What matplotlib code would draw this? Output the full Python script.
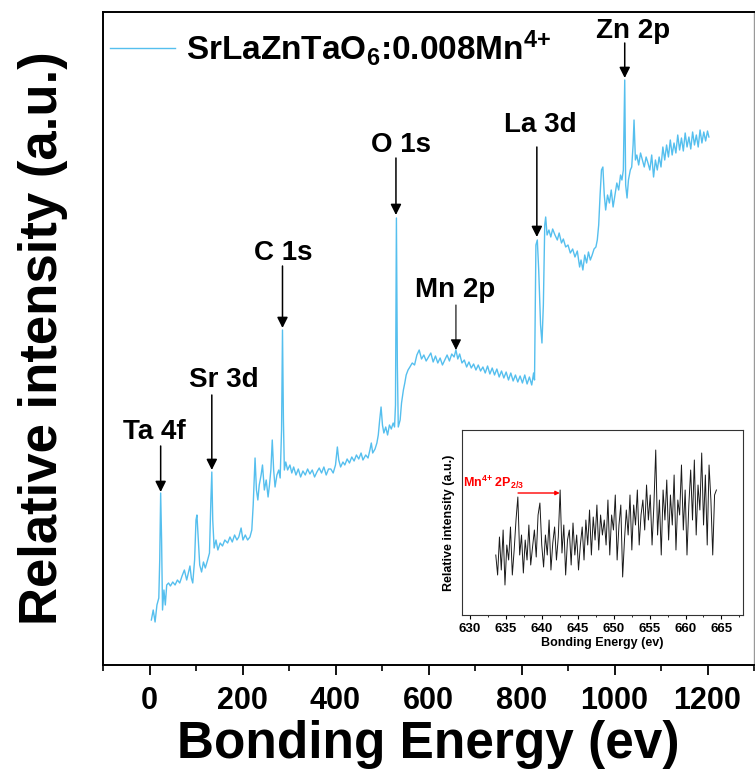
import numpy as np
import matplotlib
matplotlib.use("Agg")
import matplotlib.pyplot as plt

plt.rcParams['font.family'] = ['Liberation Sans', 'DejaVu Sans']
plt.rcParams['font.weight'] = 'bold'
plt.rcParams['mathtext.fontset'] = 'custom'
plt.rcParams['mathtext.rm'] = 'Liberation Sans:bold'
plt.rcParams['mathtext.bf'] = 'Liberation Sans:bold'
plt.rcParams['mathtext.it'] = 'Liberation Sans:bold'

# ── DATA ──────────────────────────────────────────────────────────────────────

# XPS survey spectrum, binding energy (eV) and intensity (a.u.)
survey_energy = [
    4, 8, 12, 16, 20, 22, 24, 26, 28, 31, 34, 37, 41, 45, 50, 55, 60, 65, 70, 75,
    80, 84, 87, 90, 93, 97, 100, 102, 105, 108, 112, 116, 120, 125, 129, 132, 134,
    136, 139, 143, 147, 152, 157, 162, 168, 173, 178, 183, 188, 192, 197, 201, 206,
    211, 216, 220, 223, 227, 230, 233, 236, 240, 243, 247, 251, 255, 258, 261, 264,
    267, 270, 274, 278, 281, 284, 286, 288, 290, 293, 297, 302, 306, 310, 315, 320,
    325, 330, 335, 340, 345, 350, 355, 360, 365, 370, 375, 380, 385, 390, 395, 400,
    404, 407, 411, 416, 420, 425, 430, 435, 440, 445, 450, 455, 459, 465, 470, 474,
    477, 480, 485, 489, 492, 495, 498, 501, 504, 508, 512, 516, 520, 524, 527, 529,
    531, 533, 535, 539, 542, 546, 549, 552, 556, 560, 565, 570, 575, 580, 585, 590,
    595, 600, 605, 610, 615, 620, 625, 630, 635, 640, 645, 650, 655, 659, 663, 667,
    672, 677, 682, 687, 692, 697, 702, 707, 712, 717, 722, 727, 732, 737, 742, 747,
    752, 757, 762, 767, 772, 777, 782, 787, 792, 797, 802, 807, 812, 817, 822, 826,
    828, 831, 834, 837, 841, 844, 847, 850, 852, 855, 859, 863, 867, 872, 877, 881,
    886, 890, 895, 900, 905, 910, 915, 920, 925, 928, 932, 936, 940, 944, 948, 952,
    956, 960, 963, 966, 969, 972, 975, 978, 981, 985, 989, 993, 997, 1001, 1005,
    1009, 1013, 1016, 1019, 1022, 1024, 1027, 1030, 1034, 1037, 1040, 1042, 1045,
    1048, 1052, 1056, 1060, 1064, 1068, 1072, 1076, 1080, 1084, 1088, 1092, 1096,
    1100, 1104, 1108, 1112, 1116, 1120, 1124, 1128, 1132, 1136, 1140, 1144, 1148,
    1152, 1156, 1160, 1164, 1168, 1172, 1176, 1180, 1184, 1188, 1192, 1196, 1200, 1203,
]
survey_counts = [
    45, 55, 43, 60, 67, 105, 172, 125, 55, 75, 60, 80, 82, 79, 83, 80, 85, 82, 89, 95,
    85, 93, 99, 87, 82, 105, 145, 150, 125, 100, 93, 103, 97, 105, 112, 165, 193,
    145, 117, 125, 115, 122, 119, 125, 122, 128, 123, 130, 125, 128, 137, 125, 130,
    125, 128, 135, 160, 207, 175, 165, 180, 190, 200, 175, 185, 168, 180, 195, 225,
    195, 178, 190, 195, 187, 235, 335, 245, 195, 203, 195, 200, 192, 198, 190, 196,
    188, 194, 190, 196, 191, 195, 188, 193, 197, 192, 198, 190, 196, 196, 192, 200,
    218, 205, 198, 203, 200, 206, 202, 208, 204, 210, 206, 212, 205, 210, 207, 215,
    222, 212, 216, 222, 230, 245, 258, 240, 232, 238, 230, 240, 236, 242, 238, 260,
    447, 300, 238, 245, 262, 275, 282, 290, 295, 298, 302, 300, 310, 315, 306, 310,
    304, 308, 312, 303, 309, 302, 307, 300, 305, 310, 304, 311, 308, 315, 306, 311,
    302, 305, 298, 303, 297, 301, 295, 300, 294, 298, 292, 299, 291, 297, 290, 296,
    288, 294, 287, 293, 285, 292, 284, 290, 283, 289, 282, 290, 281, 288, 280, 292,
    285, 420, 425, 395, 340, 322, 360, 440, 448, 430, 435, 428, 436, 430, 425, 432,
    422, 426, 418, 420, 412, 416, 408, 414, 398, 405, 395, 410, 402, 413, 405, 410,
    416, 418, 425, 440, 470, 495, 498, 470, 455, 470, 462, 475, 458, 470, 482,
    475, 490, 485, 495, 585, 480, 467, 485, 495, 498, 520, 545, 505,
    510, 500, 512, 505, 498, 508, 502, 495, 510, 488, 505, 495, 508,
    498, 518, 505, 520, 508, 525, 510, 522, 512, 530, 515, 527, 514,
    532, 518, 528, 516, 533, 520, 530, 518, 535, 522, 533, 524, 534, 528,
]

legend_label = r'SrLaZnTaO$_{6}$:0.008Mn$^{4{+}}$'

# peak assignments
peak_labels = ['Ta 4f', 'Sr 3d', 'C 1s', 'O 1s', 'Mn 2p', 'La 3d', 'Zn 2p']
peak_energy = [24, 134, 286, 530, 659, 833, 1022]
peak_tip = [173, 195, 337, 450, 315, 428, 587]
arrow_top = [219, 270, 399, 507, 360, 518, 622]
label_x = [11, 159, 288, 541, 657, 840, 1039]
label_y = [226, 278, 405, 513, 368, 533, 627]

# inset: Mn 2p high-resolution region
inset_counts = [
    60, 40, 78, 45, 85, 30, 70, 55, 88, 40, 65,
    95, 118, 60, 80, 42, 75, 55, 90, 50, 68, 85, 58,
    100, 112, 70, 48, 80, 60, 95, 45, 72, 88, 55, 78,
    125, 62, 90, 40, 75, 85, 50, 92, 60, 80, 45, 70,
    88, 55, 95, 70, 105, 60, 98, 75, 110, 65, 100, 80,
    95, 70, 115, 60, 100, 85, 120, 55, 90, 110, 38, 75,
    105, 80, 120, 65, 110, 90, 125, 70, 100, 115, 85, 130,
    95, 120, 70, 110, 165, 80, 115, 60, 125, 95, 135, 75,
    120, 90, 140, 65, 115, 100, 150, 85, 125, 60, 110, 145,
    95, 155, 80, 130, 105, 162, 90, 140, 70, 150, 115, 60,
    120, 125,
]
inset_energy = np.linspace(633.6, 664.3, len(inset_counts))
inset_ticks = [630, 635, 640, 645, 650, 655, 660, 665]

# ── FIGURE ────────────────────────────────────────────────────────────────────

W, H = 755, 774
fig = plt.figure(figsize=(W / 100, H / 100), dpi=100)
ax = fig.add_axes([103 / W, 1 - 665 / H, 651 / W, 653 / H])

line_color = '#55BFEE'
ax.plot(survey_energy, survey_counts, color=line_color, linewidth=1.0,
        label=legend_label)

ax.set_xlim(-100, 1300)
ax.set_ylim(0, 653)
ax.set_xticks(np.arange(0, 1201, 200))
ax.set_xticks(np.arange(-100, 1301, 100), minor=True)
ax.set_yticks([])
ax.tick_params(axis='x', which='major', direction='out', length=7, width=1.3,
               labelsize=22, pad=8)
ax.tick_params(axis='x', which='minor', direction='out', length=4, width=1.2)
for lab in ax.get_xticklabels():
    lab.set_fontweight('bold')
for side in ['left', 'bottom', 'top']:
    ax.spines[side].set_linewidth(1.4)
ax.spines['right'].set_linewidth(1.0)
ax.spines['right'].set_color('#999999')

ax.set_xlabel('Bonding Energy (ev)', fontsize=37, fontweight='bold', labelpad=3)
ax.set_ylabel('Relative intensity (a.u.)', fontsize=38, fontweight='bold',
              labelpad=25)

ax.legend(loc='upper left', bbox_to_anchor=(0.0, 0.985), frameon=False,
          fontsize=24, handlelength=1.95, handletextpad=0.35,
          borderpad=0.2, borderaxespad=0.0)

for lab, e, tip, top, tx, ty in zip(peak_labels, peak_energy, peak_tip,
                                    arrow_top, label_x, label_y):
    lw = 0.8 if lab == 'Mn 2p' else 1.1
    ax.annotate('', xy=(e, tip), xytext=(e, top),
                arrowprops=dict(arrowstyle='-|>', color='black', lw=lw,
                                mutation_scale=16, shrinkA=0, shrinkB=0))
    ax.text(tx, ty, lab, fontsize=20, fontweight='bold', ha='center',
            va='baseline')

# ── INSET ─────────────────────────────────────────────────────────────────────

axin = fig.add_axes([462 / W, 1 - 615 / H, 281 / W, 185 / H])
axin.plot(inset_energy, inset_counts, color='#1a1a1a', linewidth=0.7)
axin.set_xlim(628.9, 668)
axin.set_ylim(0, 185)
axin.set_xticks(inset_ticks)
axin.set_xticks(np.arange(630, 668, 2.5), minor=True)
axin.set_yticks([])
axin.tick_params(axis='x', which='major', direction='out', length=3, width=0.8,
                 labelsize=9.5, pad=2.5)
axin.tick_params(axis='x', which='minor', direction='out', length=1.5, width=0.6)
for lab in axin.get_xticklabels():
    lab.set_fontweight('bold')
for s in axin.spines.values():
    s.set_linewidth(0.8)
    s.set_color('#333333')
axin.set_xlabel('Bonding Energy (ev)', fontsize=9, fontweight='bold', labelpad=1.5)
axin.set_ylabel('Relative intensity (a.u.)', fontsize=9, fontweight='bold',
                labelpad=5)

axin.annotate('', xy=(642.5, 122), xytext=(636.7, 122),
              arrowprops=dict(arrowstyle='-|>', color='red', lw=1.0,
                              mutation_scale=6, shrinkA=0, shrinkB=0))
axin.text(629.1, 128, r'Mn$^{4{+}}$ 2P$_{2/3}$', color='red', fontsize=9,
          fontweight='bold', va='baseline')

fig.savefig('out.png', dpi=100)
